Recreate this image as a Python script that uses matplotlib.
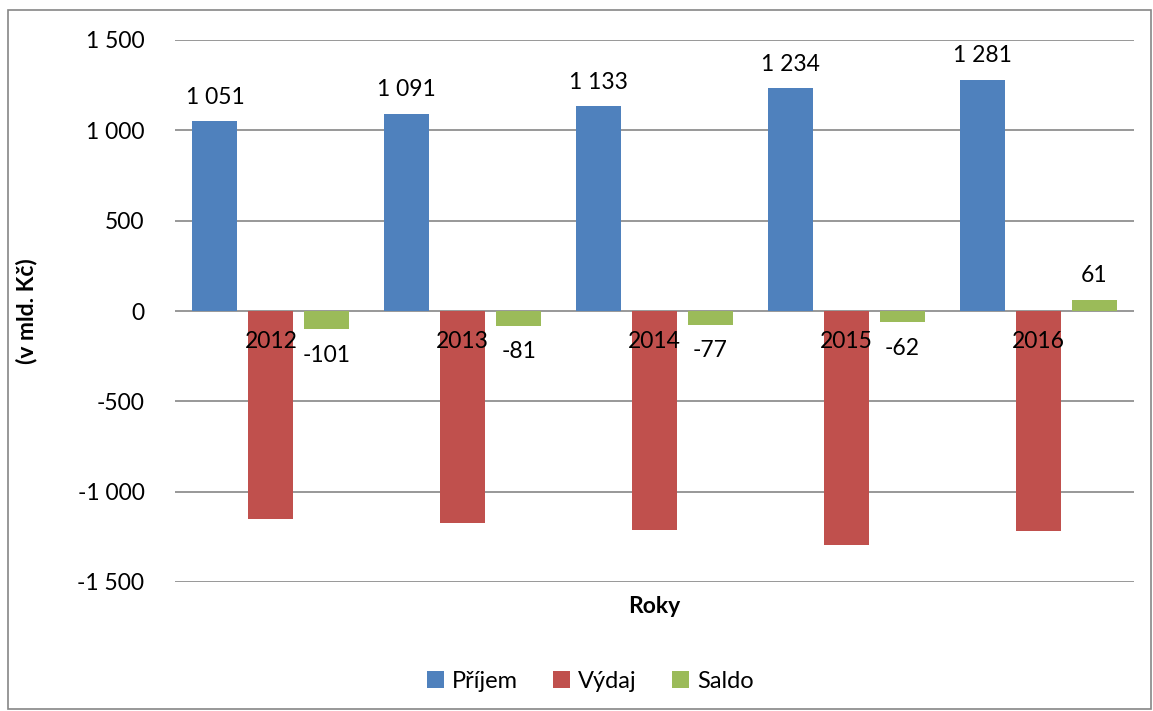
import matplotlib.pyplot as plt
import matplotlib.patches as patches
import numpy as np

roky = ["2012", "2013", "2014", "2015", "2016"]
prijem = [1051, 1091, 1133, 1234, 1281]
vydaj = [-1152, -1172, -1210, -1296, -1220]
saldo = [-101, -81, -77, -62, 61]

plt.rcParams['font.family'] = ['Lato', 'DejaVu Sans']

def fmt(v):
    s = "{:,}".format(abs(v)).replace(",", " ")
    return ("-" if v < 0 else "") + s

fs = 16.5
fig = plt.figure(figsize=(11.53, 7.11), dpi=100)
ax = fig.add_axes([175/1153, 1 - 582/711, (1134-175)/1153, (582-40)/711])

# outer chart border
fig.patches.append(patches.Rectangle((8/1153, 1 - 709/711), 1143/1153, 699/711,
                                     transform=fig.transFigure, fill=False,
                                     edgecolor='#868686', linewidth=1.2))

x = np.arange(len(roky))
w = 0.235
off = 0.292
ax.bar(x - off, prijem, w, color='#4f81bd', label='Příjem', zorder=3)
ax.bar(x, vydaj, w, color='#c0504d', label='Výdaj', zorder=3)
ax.bar(x + off, saldo, w, color='#9bbb59', label='Saldo', zorder=3)

ax.set_xlim(-0.5, len(roky) - 0.5)
ax.set_ylim(-1500, 1500)
ax.set_yticks(range(-1500, 1501, 500))
ax.set_yticklabels([fmt(v) for v in range(-1500, 1501, 500)], fontsize=fs)
ax.tick_params(axis='y', length=0, pad=22)
ax.set_xticks([])
ax.grid(axis='y', color='#868686', linewidth=1.2, zorder=0)
for s in ax.spines.values():
    s.set_visible(False)

for i, r in enumerate(roky):
    ax.text(i, -110, r, ha='center', va='top', fontsize=fs, zorder=5)
for i, v in enumerate(prijem):
    ax.text(i - off, v + 75, fmt(v), ha='center', va='bottom', fontsize=fs)
for i, v in enumerate(saldo):
    if v < 0:
        ax.text(i + off, v - 85, fmt(v), ha='center', va='top', fontsize=fs)
    else:
        ax.text(i + off, v + 75, fmt(v), ha='center', va='bottom', fontsize=fs)

ax.set_xlabel("Roky", fontsize=fs, fontweight='bold', labelpad=10)
ax.set_ylabel("(v mld. Kč)", fontsize=fs, fontweight='bold')
ax.yaxis.set_label_coords(-138/959, 0.5)

ax.legend(loc='upper center', bbox_to_anchor=(0.433, -0.125), ncol=3, frameon=False,
          fontsize=fs + 0.5, handlelength=0.7, handleheight=0.7, handletextpad=0.35,
          columnspacing=1.5)

fig.savefig("out.png", dpi=100)
